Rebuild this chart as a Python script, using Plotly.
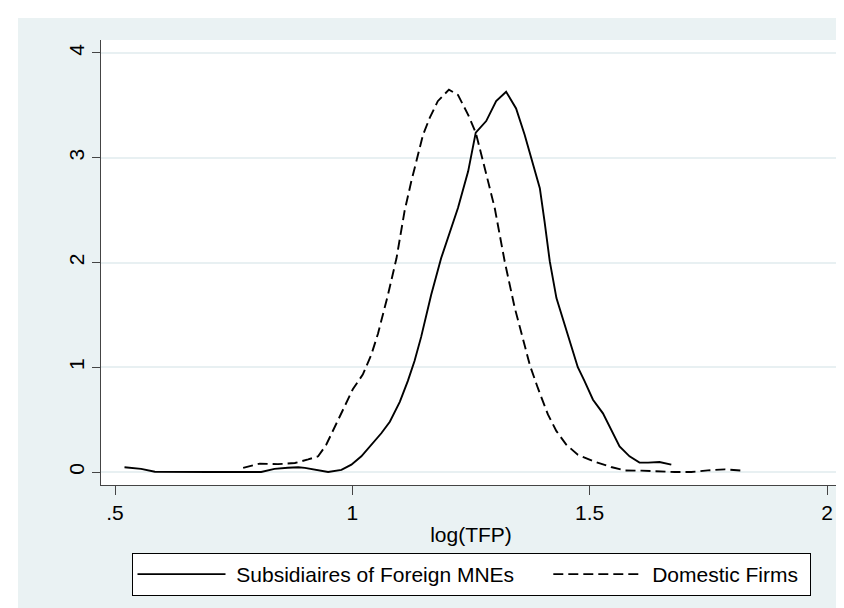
import plotly.graph_objects as go

# Kernel density of log(TFP): Subsidiaires of Foreign MNEs (solid)
foreign_x = [0.520, 0.555, 0.584, 0.620, 0.700, 0.808, 0.836, 0.864, 0.886, 0.900,
             0.928, 0.949, 0.977, 0.998, 1.019, 1.040, 1.061, 1.079, 1.100, 1.117,
             1.131, 1.145, 1.166, 1.187, 1.208, 1.2225, 1.244, 1.260, 1.282, 1.303,
             1.324, 1.345, 1.363, 1.377, 1.395, 1.405, 1.416, 1.430, 1.454, 1.475,
             1.489, 1.507, 1.528, 1.545, 1.563, 1.584, 1.605, 1.623, 1.647, 1.672]
foreign_y = [0.045, 0.030, 0.003, 0.0, 0.0, 0.0, 0.03, 0.04, 0.045, 0.04,
             0.015, 0.0, 0.02, 0.07, 0.15, 0.26, 0.37, 0.48, 0.67, 0.87,
             1.06, 1.29, 1.69, 2.04, 2.33, 2.52, 2.87, 3.24, 3.35, 3.54,
             3.63, 3.47, 3.22, 3.00, 2.71, 2.39, 2.01, 1.66, 1.30, 1.00,
             0.87, 0.69, 0.56, 0.40, 0.245, 0.15, 0.09, 0.09, 0.095, 0.07]

# Domestic Firms (dashed)
domestic_x = [0.770, 0.805, 0.843, 0.879, 0.907, 0.928, 0.945, 0.963, 0.980, 1.001,
              1.022, 1.040, 1.054, 1.075, 1.093, 1.110, 1.124, 1.138, 1.149, 1.163,
              1.180, 1.2035, 1.2225, 1.244, 1.260, 1.279, 1.300, 1.321, 1.342, 1.363,
              1.374, 1.391, 1.412, 1.430, 1.451, 1.475, 1.510, 1.545, 1.574, 1.609,
              1.644, 1.679, 1.714, 1.749, 1.785, 1.827]
domestic_y = [0.04, 0.08, 0.075, 0.086, 0.12, 0.15, 0.26, 0.43, 0.59, 0.79,
              0.93, 1.12, 1.32, 1.69, 2.04, 2.49, 2.77, 3.03, 3.22, 3.38,
              3.54, 3.65, 3.60, 3.41, 3.24, 2.90, 2.52, 2.01, 1.57, 1.21,
              1.02, 0.80, 0.55, 0.39, 0.26, 0.165, 0.10, 0.048, 0.015, 0.013,
              0.006, 0.0, 0.0, 0.016, 0.025, 0.012]

series_names = ["Subsidiaires of Foreign MNEs", "Domestic Firms"]

x_tickvals = [0.5, 1, 1.5, 2]
x_ticktext = [".5", "1", "1.5", "2"]
y_tickvals = [0, 1, 2, 3, 4]
y_ticktext = ["0", "1", "2", "3", "4"]

BG = "#EAF2F3"
FONT = "Liberation Sans, Arial, sans-serif"
NB = "\u00a0"

fig = go.Figure()
fig.add_trace(go.Scatter(x=foreign_x, y=foreign_y, mode="lines",
                         name=NB + series_names[0] + NB * 5,
                         line=dict(color="black", width=1.9)))
fig.add_trace(go.Scatter(x=domestic_x, y=domestic_y, mode="lines",
                         name=NB + series_names[1] + NB,
                         line=dict(color="black", width=1.9, dash="10px,5px")))

W, H = 844, 608
L, R, T, B = 93, 11, 32, 131
pw, ph = W - L - R, H - T - B

def px2x(p):
    return (p - L) / pw

def py2y(p):
    return (H - B - p) / ph

# white strips at top and left of the outer graph region
fig.add_shape(type="rect", xref="paper", yref="paper",
              x0=px2x(0), x1=px2x(W), y0=py2y(10), y1=py2y(0),
              fillcolor="white", line_width=0, layer="below")
fig.add_shape(type="rect", xref="paper", yref="paper",
              x0=px2x(0), x1=px2x(10), y0=py2y(H), y1=py2y(0),
              fillcolor="white", line_width=0, layer="below")

fig.update_layout(
    width=W, height=H,
    margin=dict(l=L, r=R, t=T, b=B, pad=0),
    paper_bgcolor=BG,
    plot_bgcolor="white",
    font=dict(family=FONT, size=21, color="black"),
    showlegend=True,
    legend=dict(orientation="h", x=0.5, xanchor="center",
                y=py2y(545), yanchor="top",
                bgcolor="white", bordercolor="black", borderwidth=1,
                itemwidth=88, font=dict(size=21)),
    xaxis=dict(range=[0.4705, 2.0295], tickvals=x_tickvals, ticktext=x_ticktext,
               showgrid=False, zeroline=False, showline=True,
               linecolor="#444444", linewidth=1.2,
               ticks="outside", ticklen=9, tickcolor="#444444", tickwidth=1.2,
               title=dict(text="log(TFP)", standoff=4, font=dict(size=21))),
    yaxis=dict(range=[-0.124, 4.124], tickvals=y_tickvals, ticktext=y_ticktext,
               showgrid=True, gridcolor="#E8F0F2", gridwidth=1.5,
               zeroline=False, showline=True,
               linecolor="#444444", linewidth=1.2,
               ticks="outside", ticklen=8, tickcolor="#444444", tickwidth=1.2,
               tickangle=-90),
)

fig.write_html("out.html")
